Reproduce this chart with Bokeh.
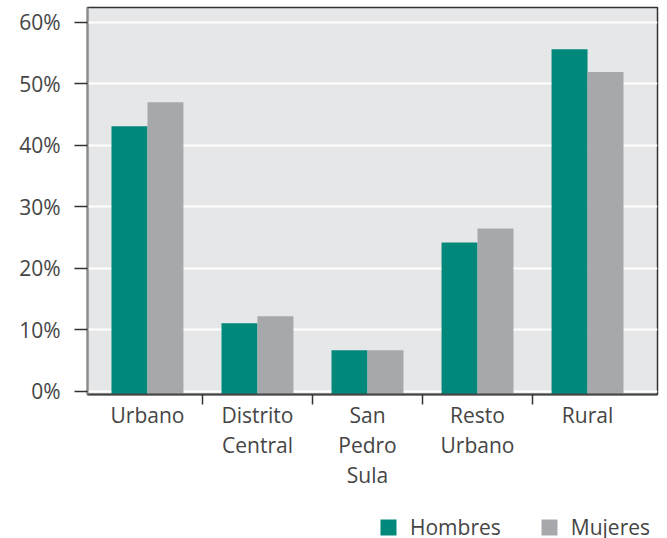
from bokeh.plotting import figure
from bokeh.layouts import column
from bokeh.models import Range1d, FixedTicker, PrintfTickFormatter, Legend, LegendItem
from bokeh.embed import file_html
from bokeh.resources import INLINE

# ---- data ----
categories = ["Urbano", "Distrito\nCentral", "San\nPedro\nSula", "Resto\nUrbano", "Rural"]
hombres = [43.1, 11.1, 6.7, 24.2, 55.6]
mujeres = [47.0, 12.2, 6.7, 26.5, 51.9]
y_ticks = [0, 10, 20, 30, 40, 50, 60]
series_names = ["Hombres", "Mujeres"]

GREEN = "#00897a"
GRAY = "#a7a8ab"
BG = "#e6e7e9"
TXT = "#454545"
FONT = "Open Sans"

y_start = -0.5
bar_w = 0.327

p = figure(frame_width=570, frame_height=387, output_backend="svg", toolbar_location=None,
           x_range=Range1d(-0.545, 4.636), y_range=Range1d(y_start, 62.4),
           min_border_left=87, min_border_right=2, min_border_top=7, min_border_bottom=110)

idx = list(range(len(categories)))
xh = [i - bar_w / 2 for i in idx]
xm = [i + bar_w / 2 for i in idx]
p.vbar(x=xh, top=hombres, bottom=y_start, width=bar_w, fill_color=GREEN, line_color=None)
p.vbar(x=xm, top=mujeres, bottom=y_start, width=bar_w, fill_color=GRAY, line_color=None)

p.background_fill_color = BG
p.border_fill_color = "white"
p.outline_line_color = "#333333"
p.outline_line_width = 1.5

# grid
p.xgrid.grid_line_color = None
p.ygrid.grid_line_color = "white"
p.ygrid.grid_line_width = 2
p.ygrid.ticker = FixedTicker(ticks=y_ticks)

# y axis
ya = p.yaxis[0]
ya.ticker = FixedTicker(ticks=y_ticks, minor_ticks=[])
ya.formatter = PrintfTickFormatter(format="%d%%")
ya.axis_line_color = "#8a8a8a"
ya.axis_line_width = 2
ya.major_tick_in = 0
ya.major_tick_out = 13
ya.major_tick_line_color = "#333333"
ya.major_tick_line_width = 1.5
ya.minor_tick_line_color = None
ya.major_label_standoff = 14
ya.major_label_text_font = FONT
ya.major_label_text_font_size = "21px"
ya.major_label_text_color = TXT

# x axis
xa = p.xaxis[0]
xa.ticker = FixedTicker(ticks=idx, minor_ticks=[i + 0.5 for i in idx[:-1]])
xa.major_label_overrides = {i: c for i, c in zip(idx, categories)}
xa.axis_line_color = "#444444"
xa.axis_line_width = 2
xa.major_tick_line_color = None
xa.minor_tick_in = 0
xa.minor_tick_out = 10
xa.minor_tick_line_color = "#333333"
xa.minor_tick_line_width = 1.5
xa.major_label_standoff = -4
xa.major_label_text_font = FONT
xa.major_label_text_font_size = "21px"
xa.major_label_text_color = TXT
xa.major_label_text_line_height = 1.08

# legend strip below the chart (swatch renderers kept outside the strip's visible range)
lf = figure(width=p.min_border_left + 570 + 2, height=40, output_backend="svg", toolbar_location=None,
            x_axis_type=None, y_axis_type=None, min_border=0,
            x_range=Range1d(0, 1), y_range=Range1d(0, 1))
lf.outline_line_color = None
lf.xgrid.grid_line_color = None
lf.ygrid.grid_line_color = None
lh = lf.vbar(x=[-10], top=[-10], bottom=[-11], width=0.1, fill_color=GREEN, line_color=None)
lm = lf.vbar(x=[-10], top=[-10], bottom=[-11], width=0.1, fill_color=GRAY, line_color=None)
legend = Legend(items=[LegendItem(label=series_names[0], renderers=[lh]),
                       LegendItem(label=series_names[1], renderers=[lm])],
                orientation="horizontal", location=(291, 3))
legend.border_line_color = None
legend.background_fill_alpha = 0
legend.padding = 0
legend.margin = 0
legend.spacing = 38
legend.glyph_width = 20
legend.glyph_height = 20
legend.label_standoff = 12
legend.label_text_font = FONT
legend.label_text_font_size = "21px"
legend.label_text_color = TXT
lf.add_layout(legend, "center")

layout = column(p, lf, spacing=0)
open("out.html", "w").write(file_html(layout, INLINE))
